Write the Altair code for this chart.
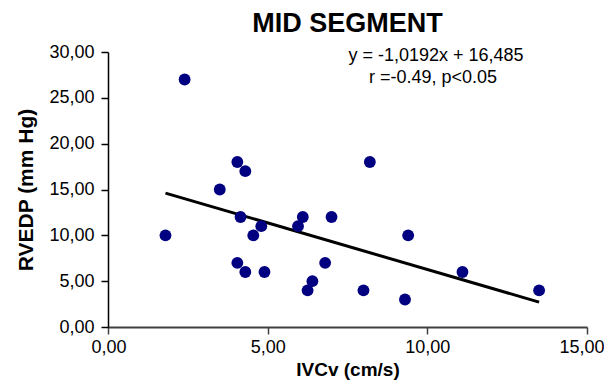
import altair as alt
import pandas as pd

ivcv = [2.4, 1.8, 3.5, 4.05, 4.3, 4.15, 4.55, 4.8, 4.05, 4.3, 4.9, 5.95,
        6.1, 7.0, 6.8, 6.4, 6.25, 8.2, 9.4, 8.0, 9.3, 11.1, 13.5]
rvedp = [27, 10, 15, 18, 17, 12, 10, 11, 7, 6, 6, 11,
         12, 12, 7, 5, 4, 18, 10, 4, 3, 6, 4]

ann_text = ["y = -1,0192x + 16,485", "r =-0.49, p<0.05"]
ann_x = [10.27, 10.18]
ann_y = [29.04, 26.64]

df = pd.DataFrame({"IVCv": ivcv, "RVEDP": rvedp})
ann = pd.DataFrame({"t": ann_text, "x": ann_x, "y": ann_y})

FONT = "Liberation Sans"
label_expr = "replace(format(datum.value, '.2f'), '.', ',')"

xs = alt.Scale(domain=[0, 15], nice=False)
ys = alt.Scale(domain=[0, 30], nice=False)

xax = alt.Axis(values=[0, 5, 10, 15], labelExpr=label_expr, grid=False,
               labelFlush=True, labelFlushOffset=17,
               title="IVCv (cm/s)", titleFont=FONT, titleFontSize=19, titleFontWeight="bold",
               labelFont=FONT, labelFontSize=18, labelColor="black", titleColor="black",
               domainColor="#404040", tickColor="#404040", tickSize=7, domainWidth=2, tickWidth=1.5,
               labelPadding=4, titlePadding=4)
yax = alt.Axis(values=[0, 5, 10, 15, 20, 25, 30], labelExpr=label_expr, grid=False, labelFlush=False,
               title="RVEDP (mm Hg)", titleFont=FONT, titleFontSize=21, titleFontWeight="bold",
               labelFont=FONT, labelFontSize=18, labelColor="black", titleColor="black",
               domainColor="black", tickColor="black", tickSize=7, domainWidth=1.5, tickWidth=1.5,
               labelPadding=7, titlePadding=12)

base = alt.Chart(df)
pts = base.mark_point(filled=True, shape="circle", size=140, color="#000080", opacity=1).encode(
    x=alt.X("IVCv:Q", scale=xs, axis=xax),
    y=alt.Y("RVEDP:Q", scale=ys, axis=yax),
)
line = base.transform_regression("IVCv", "RVEDP", method="linear").mark_line(
    color="black", strokeWidth=3).encode(
    x=alt.X("IVCv:Q", scale=xs),
    y=alt.Y("RVEDP:Q", scale=ys),
)
txt = alt.Chart(ann).mark_text(font=FONT, fontSize=18, color="black", align="center",
                                baseline="alphabetic").encode(
    x=alt.X("x:Q", scale=xs),
    y=alt.Y("y:Q", scale=ys),
    text="t:N",
)

chart = alt.layer(line, pts, txt).properties(
    width=479, height=275,
    padding={"left": 100, "top": 44, "right": 17, "bottom": 56},
    autosize="none",
    title=alt.TitleParams("MID SEGMENT", font=FONT, fontSize=27, fontWeight="bold",
                          color="black", anchor="middle", offset=5),
).configure_view(stroke=None)

chart.save("out.html", embed_options={"renderer": "svg", "actions": False})
